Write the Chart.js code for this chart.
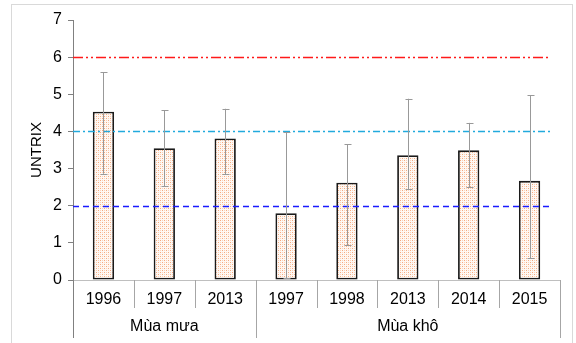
<!DOCTYPE html>
<html>
<head>
<meta charset="utf-8">
<script src="https://cdn.jsdelivr.net/npm/chart.js@4/dist/chart.umd.min.js"></script>
<style>
html,body{margin:0;padding:0;background:#fff;}
#wrap{width:576px;height:343px;position:relative;}
</style>
</head>
<body>
<div id="wrap"><canvas id="c" width="576" height="343"></canvas></div>
<script>
// ---- data ----
const categories = ['1996', '1997', '2013', '1997', '1998', '2013', '2014', '2015'];
const groups = ['Mùa mưa', 'Mùa khô'];
const groupSizes = [3, 5];
const untrixMean = [4.53, 3.55, 3.81, 1.80, 2.62, 3.36, 3.49, 2.67];
const errHigh = [5.59, 4.57, 4.61, 3.98, 3.66, 4.88, 4.23, 4.97];
const errLow = [2.86, 2.53, 2.85, 0.05, 0.94, 2.44, 2.50, 0.58];
const refLevels = [6, 4, 2];
const refColors = ['#ff1a1a', '#22aadd', '#1a1aff'];
const refDashes = [[10, 3, 2, 3, 2, 3], [7, 3, 2, 3], [6, 4]];
const yTickValues = [0, 1, 2, 3, 4, 5, 6, 7];

const FONT = '"Liberation Sans", Arial, sans-serif';

// dotted orange fill pattern
function makePattern() {
  const p = document.createElement('canvas');
  p.width = 4; p.height = 4;
  const g = p.getContext('2d');
  g.fillStyle = '#fff8f3';
  g.fillRect(0, 0, 4, 4);
  g.fillStyle = '#f5ab80';
  g.fillRect(0, 0, 1, 1);
  g.fillRect(2, 2, 1, 1);
  g.fillStyle = '#fad3bc';
  g.fillRect(2, 0, 1, 1);
  g.fillRect(0, 2, 1, 1);
  return document.getElementById('c').getContext('2d').createPattern(p, 'repeat');
}

const extras = {
  id: 'extras',
  beforeDraw(chart) {
    const ctx = chart.ctx;
    ctx.save();
    ctx.fillStyle = '#fff';
    ctx.fillRect(0, 0, chart.width, chart.height);
    ctx.strokeStyle = '#d9d9d9';
    ctx.lineWidth = 1;
    ctx.strokeRect(11.5, 4.5, 561, 400);
    ctx.restore();
  },
  afterDatasetsDraw(chart) {
    const ctx = chart.ctx;
    const y = chart.scales.y, x = chart.scales.x;
    const area = chart.chartArea;
    ctx.save();
    // reference lines
    refLevels.forEach((v, i) => {
      const py = Math.round(y.getPixelForValue(v)) + 0.5;
      ctx.strokeStyle = refColors[i];
      ctx.lineWidth = 1.5;
      ctx.setLineDash(refDashes[i]);
      ctx.beginPath();
      ctx.moveTo(area.left, py);
      ctx.lineTo(area.right - 10, py);
      ctx.stroke();
    });
    ctx.setLineDash([]);
    // error bars
    ctx.strokeStyle = '#999999';
    ctx.lineWidth = 1;
    untrixMean.forEach((m, i) => {
      const px = Math.round(x.getPixelForValue(i)) + 0.5;
      const hi = y.getPixelForValue(errHigh[i]);
      const lo = y.getPixelForValue(errLow[i]);
      ctx.beginPath();
      ctx.moveTo(px, hi); ctx.lineTo(px, lo);
      ctx.moveTo(px - 3, Math.round(hi) + 0.5); ctx.lineTo(px + 4, Math.round(hi) + 0.5);
      ctx.moveTo(px - 3, Math.round(lo) + 0.5); ctx.lineTo(px + 4, Math.round(lo) + 0.5);
      ctx.stroke();
    });
    // x-axis dividers and group labels
    const n = categories.length;
    const w = (area.right - area.left) / n;
    const bounds = [0];
    groupSizes.forEach(s => bounds.push(bounds[bounds.length - 1] + s));
    for (let i = 0; i <= n; i++) {
      const px = Math.round(area.left + i * w) + 0.5;
      const isGroup = bounds.includes(i);
      ctx.strokeStyle = i === 0 ? '#808080' : '#a6a6a6';
      ctx.beginPath();
      ctx.moveTo(px, area.bottom);
      ctx.lineTo(px, isGroup ? area.bottom + 58 : area.bottom + 28);
      ctx.stroke();
    }
    ctx.fillStyle = '#000';
    ctx.font = '16px ' + FONT;
    ctx.textAlign = 'center';
    ctx.textBaseline = 'middle';
    groups.forEach((g, gi) => {
      const cx = area.left + (bounds[gi] + bounds[gi + 1]) / 2 * w;
      ctx.fillText(g, cx, area.bottom + 47);
    });
    ctx.restore();
  }
};

const pattern = makePattern();

new Chart(document.getElementById('c'), {
  type: 'bar',
  data: {
    labels: categories,
    datasets: [{
      label: 'UNTRIX',
      data: untrixMean,
      backgroundColor: pattern,
      borderColor: '#1a1a1a',
      borderWidth: 1.8,
      borderSkipped: false,
      categoryPercentage: 1,
      barPercentage: 0.35
    }]
  },
  options: {
    responsive: false,
    animation: false,
    devicePixelRatio: 1,
    layout: { padding: { left: 0, top: 20, right: 16, bottom: 0 } },
    plugins: { legend: { display: false }, tooltip: { enabled: false } },
    scales: {
      x: {
        grid: { display: false, drawTicks: false },
        border: { display: true, color: '#bfbfbf', width: 1 },
        ticks: { color: '#000', font: { family: FONT, size: 16 }, padding: 10, maxRotation: 0 },
        afterFit(s) { s.height = 63; }
      },
      y: {
        min: 0, max: 7,
        afterBuildTicks(s) { s.ticks = yTickValues.map(v => ({ value: v })); },
        grid: { drawOnChartArea: false, drawTicks: true, tickLength: 5, color: '#808080' },
        border: { display: true, color: '#808080', width: 1 },
        ticks: { color: '#000', font: { family: FONT, size: 16 }, padding: 6 },
        title: { display: true, text: 'UNTRIX', color: '#000', font: { family: FONT, size: 15 }, padding: { top: 28, bottom: 0 } },
        afterFit(s) { s.width = 73; }
      }
    }
  },
  plugins: [extras]
});
</script>
</body>
</html>
